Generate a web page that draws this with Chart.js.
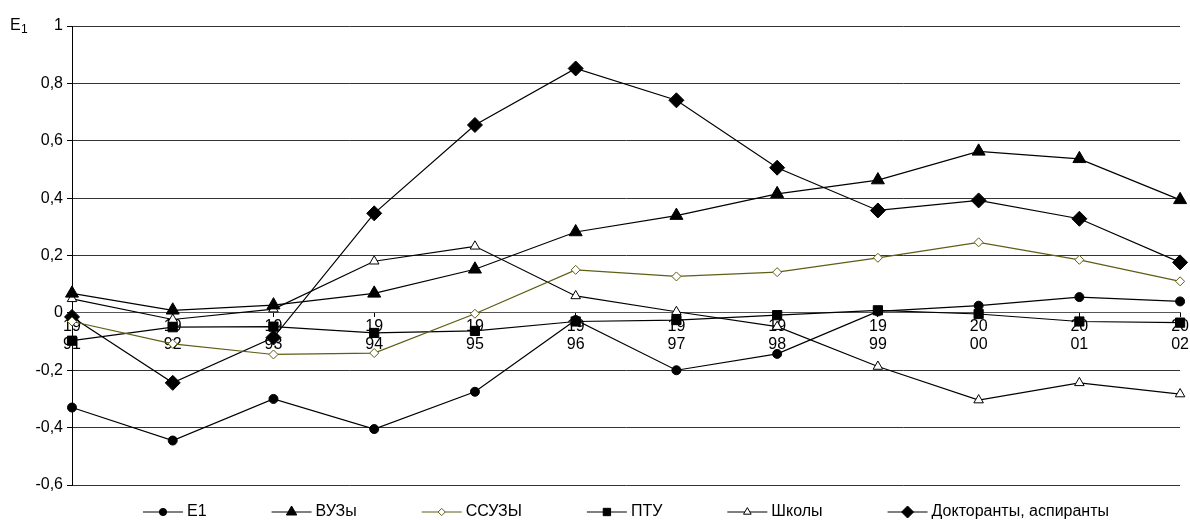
<!DOCTYPE html>
<html>
<head>
<meta charset="utf-8">
<script src="https://cdn.jsdelivr.net/npm/chart.js"></script>
<style>
  body { margin: 0; background: #fff; }
  #wrap { width: 1190px; height: 520px; position: relative; }
</style>
</head>
<body>
<div id="wrap"><canvas id="myChart"></canvas></div>
<script>
// years and two-line tick labels
const years = ["1991", "1992", "1993", "1994", "1995", "1996", "1997", "1998", "1999", "2000", "2001", "2002"];
const yearTicks = [["19", "91"], ["19", "92"], ["19", "93"], ["19", "94"], ["19", "95"], ["19", "96"],
	["19", "97"], ["19", "98"], ["19", "99"], ["20", "00"], ["20", "01"], ["20", "02"]];

// series values
const e1 = [-0.33, -0.445, -0.30, -0.405, -0.275, -0.025, -0.20, -0.143, 0.005, 0.025, 0.055, 0.04];
const vuzy = [0.068, 0.009, 0.027, 0.068, 0.152, 0.282, 0.339, 0.415, 0.463, 0.563, 0.537, 0.394];
const ssuzy = [-0.03, -0.108, -0.145, -0.14, -0.003, 0.15, 0.127, 0.142, 0.192, 0.246, 0.185, 0.11];
const ptu = [-0.097, -0.05, -0.048, -0.07, -0.063, -0.03, -0.025, -0.008, 0.009, -0.004, -0.03, -0.034];
const shkoly = [0.049, -0.023, 0.013, 0.18, 0.232, 0.059, 0.004, -0.048, -0.187, -0.304, -0.244, -0.283];
const doktoranty = [-0.014, -0.244, -0.086, 0.347, 0.655, 0.852, 0.741, 0.506, 0.357, 0.392, 0.328, 0.176];

// y axis
const yMin = -0.6;
const yMax = 1;
const yStep = 0.2;

const FONT = "'Liberation Sans', Arial, sans-serif";
const olive = "#5e5e14";

function series(label, data, style, radius, fill, line) {
	return {
		label: label,
		data: data,
		borderColor: line || "#000",
		borderWidth: 1.2,
		pointStyle: style,
		pointRadius: radius,
		pointHoverRadius: radius,
		pointBackgroundColor: fill,
		pointBorderColor: line || "#000",
		pointBorderWidth: 1,
		tension: 0,
		fill: false,
	};
}

const datasets = [
	series("E1", e1, "circle", 4.5, "#000"),
	series("ВУЗы", vuzy, "triangle", 7.5, "#000"),
	series("ССУЗЫ", ssuzy, "rectRot", 4.5, "#fff", olive),
	series("ПТУ", ptu, "rect", 6.5, "#000"),
	series("Школы", shkoly, "triangle", 5.5, "#fff"),
	series("Докторанты, аспиранты", doktoranty, "rectRot", 7.5, "#000"),
];

//! title "E1" with subscript, top-left
const titlePlugin = {
	id: "titleE1",
	afterDraw(chart) {
		const ctx = chart.ctx;
		ctx.save();
		ctx.fillStyle = "#000";
		ctx.textBaseline = "middle";
		ctx.font = "16px " + FONT;
		ctx.fillText("E", 10, 26);
		ctx.font = "12px " + FONT;
		ctx.fillText("1", 21, 30);
		ctx.restore();
	},
};

//! legend drawn as line + marker + text, Excel style
const legendPlugin = {
	id: "lineLegend",
	afterDraw(chart) {
		const ctx = chart.ctx;
		const lineW = 40, textGap = 4, itemGap = 65;
		ctx.save();
		ctx.font = "16px " + FONT;
		const widths = chart.data.datasets.map(ds => lineW + textGap + ctx.measureText(ds.label).width);
		let x = 143;
		const y = 512;
		chart.data.datasets.forEach((ds, i) => {
			ctx.strokeStyle = ds.borderColor;
			ctx.lineWidth = 1.2;
			ctx.beginPath();
			ctx.moveTo(x, y);
			ctx.lineTo(x + lineW, y);
			ctx.stroke();
			ctx.fillStyle = ds.pointBackgroundColor;
			ctx.strokeStyle = ds.pointBorderColor;
			ctx.lineWidth = 1;
			Chart.helpers.drawPoint(ctx, {
				pointStyle: ds.pointStyle,
				radius: ds.pointRadius * 0.8,
				rotation: 0,
				borderWidth: 1,
			}, x + lineW / 2, y);
			ctx.fillStyle = "#000";
			ctx.textBaseline = "middle";
			ctx.fillText(ds.label, x + lineW + textGap, y);
			x += widths[i] + itemGap;
		});
		ctx.restore();
	},
};

const config = {
	type: "line",
	data: { labels: years, datasets: datasets },
	options: {
		responsive: true,
		maintainAspectRatio: false,
		animation: false,
		layout: { padding: { top: 26, right: 8, bottom: 35, left: 0 } },
		plugins: {
			legend: { display: false },
			tooltip: { enabled: false },
		},
		scales: {
			x: {
				type: "category",
				position: { y: 0 },
				offset: false,
				grid: {
					drawOnChartArea: false,
					drawTicks: true,
					tickLength: 4,
					tickColor: "#000",
				},
				border: { display: true, color: "#555", width: 1 },
				ticks: {
					autoSkip: false,
					maxRotation: 0,
					padding: 1,
					color: "#000",
					font: { family: FONT, size: 16, lineHeight: 1.1 },
					callback: (v, i) => yearTicks[i],
				},
			},
			y: {
				min: yMin,
				max: yMax,
				afterFit: scale => { scale.width = 72; },
				grid: {
					color: "#333",
					lineWidth: 1,
					tickLength: 5,
					tickColor: "#000",
				},
				border: { display: true, color: "#000", width: 1 },
				ticks: {
					stepSize: yStep,
					padding: 4,
					color: "#000",
					font: { family: FONT, size: 16 },
					callback: v => String(Number(v.toFixed(1))).replace(".", ","),
				},
			},
		},
	},
	plugins: [titlePlugin, legendPlugin],
};

const myChart = new Chart(document.getElementById("myChart"), config);
</script>
</body>
</html>
